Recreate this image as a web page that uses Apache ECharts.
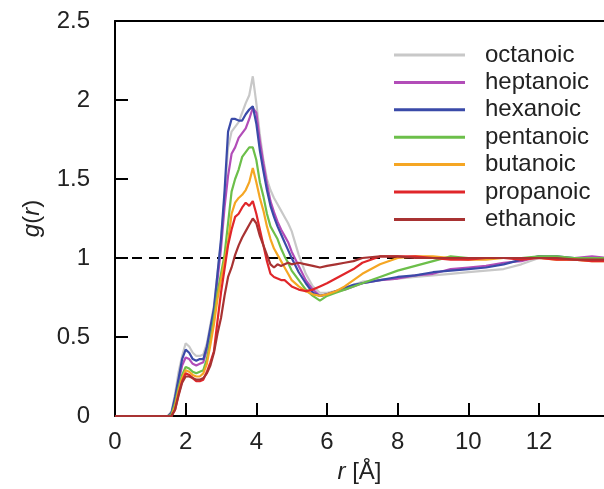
<!DOCTYPE html>
<html>
<head>
<meta charset="utf-8">
<script src="https://cdn.jsdelivr.net/npm/echarts@6/dist/echarts.min.js"></script>
<style>html,body{margin:0;padding:0;background:#fff;}#c{width:604px;height:489px;}</style>
</head>
<body>
<div id="c"></div>
<script>
const r = [0,1.5,1.6,1.7,1.8,1.9,2.0,2.1,2.2,2.3,2.4,2.5,2.6,2.7,2.8,2.9,3.0,3.1,3.2,3.3,3.4,3.5,3.6,3.7,3.8,3.9,4.0,4.1,4.2,4.3,4.4,4.5,4.6,4.7,4.8,4.9,5.0,5.2,5.4,5.6,5.8,6.0,6.25,6.5,6.75,7.0,7.5,8.0,8.5,9.0,9.5,10.0,10.5,11.0,11.5,12.0,12.5,13.0,13.5,14.0];

const octanoic = [0,0,0.03,0.14,0.28,0.38,0.46,0.44,0.40,0.38,0.38,0.39,0.46,0.58,0.70,0.90,1.10,1.38,1.70,1.80,1.83,1.86,1.92,1.98,2.03,2.15,1.98,1.78,1.62,1.50,1.43,1.38,1.34,1.30,1.26,1.22,1.17,1.02,0.90,0.82,0.78,0.78,0.79,0.81,0.83,0.85,0.86,0.87,0.88,0.89,0.90,0.91,0.92,0.93,0.96,1.00,1.01,0.99,0.99,0.99];
const heptanoic = [0,0,0.02,0.10,0.22,0.32,0.37,0.36,0.33,0.32,0.33,0.34,0.42,0.54,0.66,0.86,1.06,1.32,1.52,1.66,1.70,1.76,1.79,1.82,1.88,1.95,1.92,1.74,1.60,1.47,1.36,1.29,1.23,1.18,1.14,1.10,1.04,0.95,0.86,0.80,0.76,0.77,0.79,0.80,0.82,0.84,0.86,0.87,0.89,0.90,0.93,0.94,0.95,0.97,0.98,1.01,1.00,1.00,1.01,1.00];
const hexanoic = [0,0,0.02,0.12,0.24,0.36,0.42,0.40,0.36,0.35,0.36,0.36,0.44,0.56,0.68,0.90,1.12,1.42,1.80,1.88,1.88,1.87,1.87,1.91,1.94,1.96,1.85,1.68,1.55,1.43,1.33,1.26,1.20,1.15,1.10,1.05,1.00,0.91,0.84,0.78,0.76,0.77,0.79,0.81,0.83,0.84,0.86,0.88,0.89,0.91,0.92,0.93,0.94,0.96,0.99,1.01,1.01,1.00,1.00,1.00];
const pentanoic = [0,0,0.01,0.08,0.18,0.26,0.31,0.30,0.28,0.27,0.28,0.29,0.36,0.48,0.62,0.78,0.90,1.02,1.22,1.42,1.50,1.56,1.64,1.67,1.70,1.70,1.62,1.48,1.39,1.28,1.20,1.16,1.12,1.06,1.01,0.97,0.92,0.86,0.80,0.76,0.73,0.76,0.78,0.80,0.82,0.84,0.88,0.92,0.95,0.98,1.01,1.00,1.00,1.00,1.00,1.01,1.01,1.00,1.00,1.00];
const butanoic = [0,0,0,0.06,0.16,0.24,0.29,0.28,0.26,0.25,0.25,0.27,0.33,0.45,0.58,0.74,0.86,0.98,1.10,1.28,1.35,1.38,1.40,1.43,1.48,1.57,1.48,1.38,1.30,1.20,1.12,1.06,1.02,0.98,0.94,0.90,0.86,0.82,0.79,0.77,0.76,0.77,0.79,0.82,0.86,0.90,0.96,1.00,1.01,1.01,1.00,0.99,0.99,1.00,1.00,1.00,0.99,0.99,0.98,0.98];
const propanoic = [0,0,0,0.04,0.14,0.22,0.27,0.26,0.24,0.22,0.22,0.23,0.28,0.34,0.41,0.60,0.78,0.93,1.08,1.18,1.26,1.28,1.32,1.35,1.33,1.36,1.28,1.18,1.08,0.98,0.90,0.88,0.87,0.86,0.86,0.84,0.82,0.80,0.79,0.80,0.82,0.84,0.87,0.90,0.93,0.97,1.01,1.01,1.01,1.00,0.99,0.99,1.00,1.00,0.99,1.00,0.99,0.99,0.98,0.98];
const ethanoic = [0,0,0,0.04,0.13,0.21,0.25,0.25,0.24,0.23,0.23,0.24,0.27,0.32,0.40,0.52,0.62,0.76,0.88,0.94,1.02,1.08,1.13,1.17,1.21,1.25,1.22,1.14,1.08,1.02,0.96,0.94,0.96,0.95,0.96,0.97,0.96,0.97,0.96,0.95,0.94,0.95,0.96,0.97,0.98,1.00,1.01,1.01,1.00,1.00,1.00,1.00,1.00,1.00,1.00,1.00,1.00,0.99,0.99,0.99];

const seriesNames = ['octanoic','heptanoic','hexanoic','pentanoic','butanoic','propanoic','ethanoic'];
const seriesValues = [octanoic,heptanoic,hexanoic,pentanoic,butanoic,propanoic,ethanoic];
const colors = ['#c8c8c8','#b24db8','#3a4aa8','#6cbf4a','#f5a623','#e0262a','#a83232'];
const xTicks = [0,2,4,6,8,10,12];
const yTicks = [0,0.5,1,1.5,2,2.5];
const refLine = [[0,1],[14,1]];

const FONT = '"Liberation Sans", Arial, sans-serif';
const FS = 24;
const chart = echarts.init(document.getElementById('c'), null, {renderer:'canvas'});

const series = [{
  type:'line', data: refLine, symbol:'none', silent:true, z:1,
  lineStyle:{color:'#000', width:2, type:[10,7]}
}];
seriesNames.forEach((n,i)=>{
  series.push({
    name:n, type:'line', symbol:'none', z:2+i,
    data: r.map((x,j)=>[x, seriesValues[i][j]]),
    lineStyle:{color:colors[i], width:2.2}, itemStyle:{color:colors[i]}
  });
});

const XMAX = 13.84;
chart.setOption({
  animation:false,
  backgroundColor:'#fff',
  grid:{left:115, top:21, right:0, bottom:73, containLabel:false},
  legend:{
    data:seriesNames, orient:'vertical', left:389, top:38,
    icon:'rect', itemWidth:71, itemHeight:3, itemGap:3.4,
    textStyle:{fontFamily:FONT, fontSize:FS, color:'#222', lineHeight:24, padding:[0,0,0,15]}
  },
  xAxis:[{
    type:'value', min:0, max:XMAX, interval:2,
    axisLine:{show:true, lineStyle:{color:'#000', width:2}},
    axisTick:{show:true, inside:true, length:13, lineStyle:{color:'#000', width:2}},
    axisLabel:{fontFamily:FONT, fontSize:FS, color:'#222', margin:14, showMaxLabel:false,
      formatter:v=> (xTicks.indexOf(v)>=0) ? String(v) : ''},
    splitLine:{show:false},
    name:'{i|r} [Å]', nameLocation:'middle', nameGap:44,
    nameTextStyle:{fontFamily:FONT, fontSize:FS, color:'#222',
      rich:{i:{fontFamily:FONT, fontSize:FS, fontStyle:'italic', color:'#222'}}}
  },{
    type:'value', position:'top', min:0, max:XMAX,
    axisLine:{show:true, onZero:false, lineStyle:{color:'#000', width:2}},
    axisTick:{show:false}, axisLabel:{show:false}, splitLine:{show:false}
  }],
  yAxis:{
    type:'value', min:0, max:2.5, interval:0.5,
    axisLine:{show:true, lineStyle:{color:'#000', width:2}},
    axisTick:{show:true, inside:true, length:13, lineStyle:{color:'#000', width:2}},
    axisLabel:{fontFamily:FONT, fontSize:FS, color:'#222', margin:25,
      formatter:v=> yTicks.indexOf(v)>=0 ? String(v) : ''},
    splitLine:{show:false},
    name:'{i|g}({i|r})', nameLocation:'middle', nameGap:71, nameRotate:90,
    nameTextStyle:{fontFamily:FONT, fontSize:FS, color:'#222',
      rich:{i:{fontFamily:FONT, fontSize:FS, fontStyle:'italic', color:'#222'}}}
  },
  series: series
});
</script>
</body>
</html>
